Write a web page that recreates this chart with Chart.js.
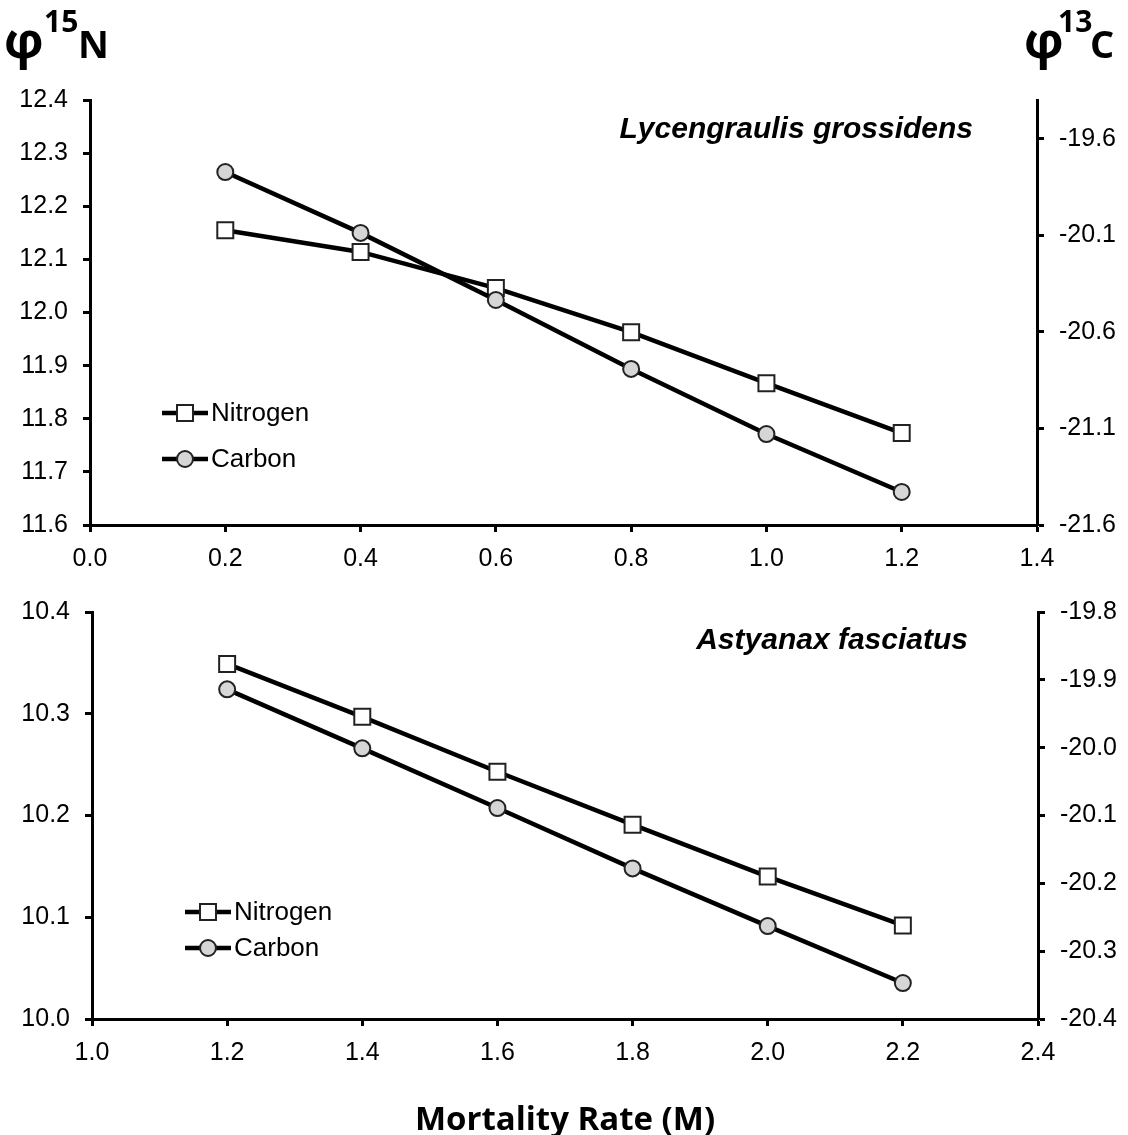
<!DOCTYPE html>
<html>
<head>
<meta charset="utf-8">
<script src="https://cdn.jsdelivr.net/npm/chart.js@4.4.1/dist/chart.umd.min.js"></script>
<style>
html,body{margin:0;padding:0;background:#fff;width:1128px;height:1135px;overflow:hidden}
canvas{position:absolute;left:0;display:block}
#c1{top:0}
#c2{top:580px}
</style>
</head>
<body>
<canvas id="c1" width="1128" height="580"></canvas>
<canvas id="c2" width="1128" height="555"></canvas>
<script>
// ---------- data ----------
const topSpecies = 'Lycengraulis grossidens';
const topMortality = [0.2, 0.4, 0.6, 0.8, 1.0, 1.2];
const topNitrogen = [12.155, 12.114, 12.046, 11.963, 11.867, 11.773];
const topCarbon = [-19.773, -20.088, -20.435, -20.792, -21.129, -21.429];
const topXTicks = [0.0, 0.2, 0.4, 0.6, 0.8, 1.0, 1.2, 1.4];
const topLeftTicks = [11.6, 11.7, 11.8, 11.9, 12.0, 12.1, 12.2, 12.3, 12.4];
const topRightTicks = [-21.6, -21.1, -20.6, -20.1, -19.6];

const bottomSpecies = 'Astyanax fasciatus';
const bottomMortality = [1.2, 1.4, 1.6, 1.8, 2.0, 2.2];
const bottomNitrogen = [10.349, 10.297, 10.243, 10.191, 10.140, 10.092];
const bottomCarbon = [-19.914, -20.001, -20.089, -20.178, -20.263, -20.347];
const bottomXTicks = [1.0, 1.2, 1.4, 1.6, 1.8, 2.0, 2.2, 2.4];
const bottomLeftTicks = [10.0, 10.1, 10.2, 10.3, 10.4];
const bottomRightTicks = [-20.4, -20.3, -20.2, -20.1, -20.0, -19.9, -19.8];

const seriesNames = ['Nitrogen', 'Carbon'];
const xAxisTitle = 'Mortality Rate (M)';
const leftTitle = ['φ', '15', 'N'];
const rightTitle = ['φ', '13', 'C'];

// ---------- styling ----------
const tickFont = {family: '"Liberation Sans", Arial, sans-serif', size: 25};
const black = '#000';

const annotPlugin = {
  id: 'annot',
  afterDatasetsDraw(chart, args, opts) {
    const ctx = chart.ctx, ca = chart.chartArea;
    ctx.save();
    // species label
    ctx.font = 'italic bold 30px "Liberation Sans", Arial, sans-serif';
    ctx.fillStyle = black;
    ctx.textAlign = 'right';
    ctx.textBaseline = 'alphabetic';
    ctx.fillText(opts.species, ca.right - opts.speciesDx, ca.top + opts.speciesDy);
    // legend
    chart.data.datasets.forEach((ds, i) => {
      const x0 = ca.left + opts.legendX, y = ca.top + opts.legendY[i];
      ctx.strokeStyle = black;
      ctx.lineWidth = 4.5;
      ctx.beginPath(); ctx.moveTo(x0, y); ctx.lineTo(x0 + 46, y); ctx.stroke();
      const cx = x0 + 23;
      ctx.fillStyle = ds.pointBackgroundColor;
      ctx.strokeStyle = ds.pointBorderColor;
      ctx.lineWidth = ds.pointBorderWidth;
      ctx.beginPath();
      if (ds.pointStyle === 'rect') {
        const h = ds.pointRadius * Math.SQRT1_2;
        ctx.rect(cx - h, y - h, 2 * h, 2 * h);
      } else {
        ctx.arc(cx, y, ds.pointRadius, 0, Math.PI * 2);
      }
      ctx.fill(); ctx.stroke();
      ctx.fillStyle = black;
      ctx.textAlign = 'left';
      ctx.textBaseline = 'middle';
      ctx.font = '26px "Liberation Sans", Arial, sans-serif';
      ctx.fillText(ds.label, x0 + 49, y + 1);
    });
    // axis titles (top chart only)
    if (opts.corner) {
      ctx.textAlign = 'left';
      ctx.textBaseline = 'alphabetic';
      const drawT = (parts, xs) => {
        ctx.font = 'bold 50px "Open Sans", sans-serif';
        ctx.fillText(parts[0], xs[0], 58);
        ctx.font = 'bold 30px "Open Sans", sans-serif';
        ctx.fillText(parts[1], xs[1], 32);
        ctx.font = 'bold 38px "Open Sans", sans-serif';
        ctx.fillText(parts[2], xs[2], 58);
      };
      drawT(leftTitle, [4, 44, 78]);
      drawT(rightTitle, [1024, 1058, 1090]);
    }
    ctx.restore();
  }
};

function makeChart(id, cfg) {
  const gridOpts = {display: true, drawOnChartArea: false, drawTicks: true, tickLength: 7, tickWidth: 3, tickColor: black, color: black};
  const borderOpts = {display: true, width: 3, color: black};
  const fmt = v => Number(v).toFixed(1);
  return new Chart(document.getElementById(id), {
    type: 'line',
    data: {
      datasets: [
        {
          label: seriesNames[0], yAxisID: 'y', order: 2,
          data: cfg.x.map((v, i) => ({x: v, y: cfg.n[i]})),
          borderColor: black, borderWidth: 4.5, tension: 0,
          pointStyle: 'rect', pointRadius: 11.3, pointHoverRadius: 11.3,
          pointBackgroundColor: '#ffffff', pointBorderColor: '#222', pointBorderWidth: 2
        },
        {
          label: seriesNames[1], yAxisID: 'y2', order: 1,
          data: cfg.x.map((v, i) => ({x: v, y: cfg.c[i]})),
          borderColor: black, borderWidth: 4.5, tension: 0,
          pointStyle: 'circle', pointRadius: 8, pointHoverRadius: 8,
          pointBackgroundColor: '#d6d6d6', pointBorderColor: '#222', pointBorderWidth: 2
        }
      ]
    },
    options: {
      responsive: false, animation: false, devicePixelRatio: 1,
      clip: false,
      layout: {padding: {top: cfg.padTop, left: 0, right: 0, bottom: 0}},
      plugins: {
        legend: {display: false}, tooltip: {enabled: false},
        annot: cfg.annot
      },
      scales: {
        x: {
          type: 'linear', position: 'bottom', min: cfg.xMin, max: cfg.xMax,
          afterBuildTicks: s => { s.ticks = cfg.xTicks.map(v => ({value: v})); },
          ticks: {callback: fmt, font: tickFont, color: black, padding: 12, maxRotation: 0, autoSkip: false},
          grid: gridOpts, border: borderOpts,
          title: cfg.xTitle,
          afterFit: s => { s.height = cfg.xHeight; }
        },
        y: {
          type: 'linear', position: 'left', min: cfg.lMin, max: cfg.lMax,
          afterBuildTicks: s => { s.ticks = cfg.lTicks.map(v => ({value: v})); },
          ticks: {callback: fmt, font: tickFont, color: black, padding: 15, autoSkip: false},
          grid: gridOpts, border: borderOpts,
          afterFit: s => { s.width = cfg.lWidth; }
        },
        y2: {
          type: 'linear', position: 'right', min: cfg.rMin, max: cfg.rMax,
          afterBuildTicks: s => { s.ticks = cfg.rTicks.map(v => ({value: v})); },
          ticks: {callback: fmt, font: tickFont, color: black, padding: 15, autoSkip: false},
          grid: gridOpts, border: borderOpts,
          afterFit: s => { s.width = cfg.rWidth; }
        }
      }
    },
    plugins: [annotPlugin]
  });
}

makeChart('c1', {
  x: topMortality, n: topNitrogen, c: topCarbon,
  xMin: 0.0, xMax: 1.4, xTicks: topXTicks,
  lMin: 11.6, lMax: 12.4, lTicks: topLeftTicks,
  rMin: -21.6, rMax: -19.4, rTicks: topRightTicks,
  padTop: 100, xHeight: 55, lWidth: 90, rWidth: 91,
  xTitle: {display: false},
  annot: {species: topSpecies, speciesDx: 64, speciesDy: 38, legendX: 72, legendY: [313, 359], corner: true}
});

makeChart('c2', {
  x: bottomMortality, n: bottomNitrogen, c: bottomCarbon,
  xMin: 1.0, xMax: 2.4, xTicks: bottomXTicks,
  lMin: 10.0, lMax: 10.4, lTicks: bottomLeftTicks,
  rMin: -20.4, rMax: -19.8, rTicks: bottomRightTicks,
  padTop: 32, xHeight: 116, lWidth: 92, rWidth: 90,
  xTitle: {display: true, text: xAxisTitle, color: black,
    font: {family: '"Open Sans", sans-serif', size: 33, weight: 'bold', lineHeight: 0.8},
    padding: {top: 0, bottom: 1}},
  annot: {species: bottomSpecies, speciesDx: 70, speciesDy: 37, legendX: 93, legendY: [300, 336], corner: false}
});
</script>
</body>
</html>
